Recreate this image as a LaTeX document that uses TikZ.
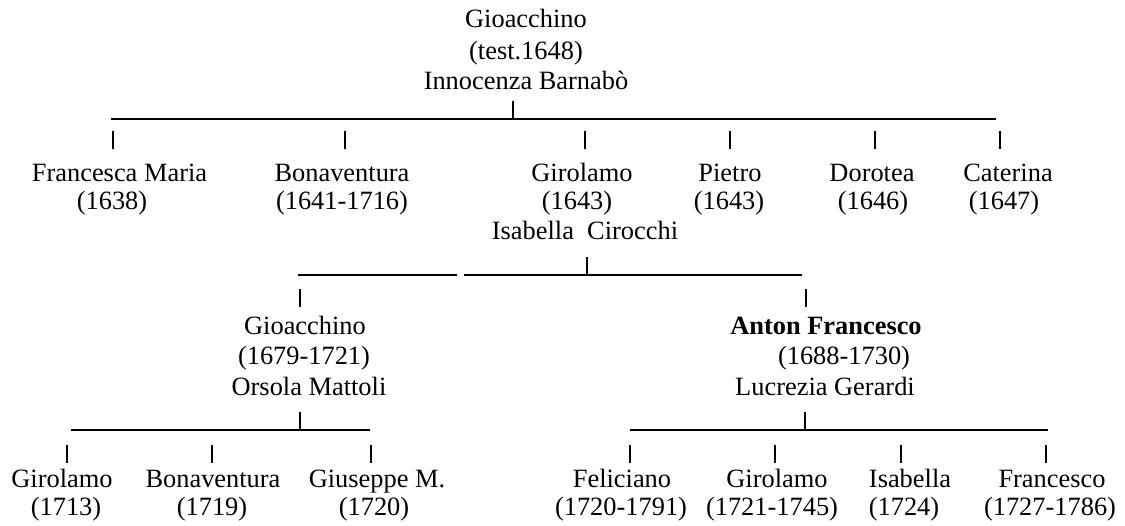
\documentclass[tikz,border=0pt]{standalone}
\usepackage{fontspec}
\setmainfont{Liberation Serif}
\begin{document}
\begin{tikzpicture}[x=1pt,y=-1pt,
  t/.style={anchor=base,inner sep=0pt,font=\fontsize{26.4}{30}\selectfont},
  tb/.style={t,font=\fontsize{26.4}{30}\selectfont\bfseries},
  hline/.style={line width=1.1pt},
  bar/.style={line width=1.1pt}]
\useasboundingbox (0,0) rectangle (1125,526);
% generation 1
\node[t] (g) at (526,28) {Gioacchino};
\node[t] (gd) at (526,60) {(test.1648)};
\node[t] (gw) at (526,90) {Innocenza Barnabò};
\coordinate (a1) at (111,119); \coordinate (a2) at (996,119); \coordinate (ap) at (513,119);
\draw[hline] (a1) -- (a2);
\draw[bar] (ap) -- ++(0,-18);
\foreach \x/\n in {113/t1,345/t2,585/t3,730/t4,875/t5,1000/t6}{
  \coordinate (\n) at (\x,131);
  \draw[bar] (\n) -- ++(0,18);
}
% generation 2
\node[t] (fm) at (119.5,182) {Francesca Maria};
\node[t] (fmd) at (112,210) {(1638)};
\node[t] (bo) at (342,182) {Bonaventura};
\node[t] (bod) at (342,210) {(1641-1716)};
\node[t] (gi) at (582,182) {Girolamo};
\node[t] (gid) at (577,210) {(1643)};
\node[t] (giw) at (585,240) {Isabella\hspace{0.25em} Cirocchi};
\node[t] (pi) at (730,182) {Pietro};
\node[t] (pid) at (729,210) {(1643)};
\node[t] (do) at (872,182) {Dorotea};
\node[t] (dod) at (873,210) {(1646)};
\node[t] (ca) at (1008,182) {Caterina};
\node[t] (cad) at (1004,210) {(1647)};
\coordinate (b1) at (298,275); \coordinate (b2) at (457,275);
\coordinate (b3) at (464,275); \coordinate (b4) at (802,275);
\coordinate (bp) at (587,275);
\draw[hline] (b1) -- (b2);
\draw[hline] (b3) -- (b4);
\draw[bar] (bp) -- ++(0,-18);
\coordinate (u1) at (300,289); \coordinate (u2) at (806,289);
\draw[bar] (u1) -- ++(0,18);
\draw[bar] (u2) -- ++(0,18);
% generation 3
\node[t] (jg) at (305,335) {Gioacchino};
\node[t] (jgd) at (304,365) {(1679-1721)};
\node[t] (jgw) at (309,396) {Orsola Mattoli};
\node[tb] (af) at (826,335) {Anton Francesco};
\node[t] (afd) at (844,365) {(1688-1730)};
\node[t] (afw) at (825,396) {Lucrezia Gerardi};
\coordinate (c1) at (71,430); \coordinate (c2) at (370,430); \coordinate (cp) at (300,430);
\coordinate (d1) at (630,430); \coordinate (d2) at (1048,430); \coordinate (dp) at (805,430);
\draw[hline] (c1) -- (c2);
\draw[hline] (d1) -- (d2);
\draw[bar] (cp) -- ++(0,-18);
\draw[bar] (dp) -- ++(0,-18);
\foreach \x/\n in {67/v1,212/v2,371/v3,630/v4,775/v5,901/v6,1046/v7}{
  \coordinate (\n) at (\x,445);
  \draw[bar] (\n) -- ++(0,18);
}
% generation 4
\node[t] (k1) at (62,487) {Girolamo};
\node[t] (k1d) at (66,515) {(1713)};
\node[t] (k2) at (213,487) {Bonaventura};
\node[t] (k2d) at (212,515) {(1719)};
\node[t] (k3) at (377,487) {Giuseppe M.};
\node[t] (k3d) at (374,515) {(1720)};
\node[t] (m1) at (622,487) {Feliciano};
\node[t] (m1d) at (621,515) {(1720-1791)};
\node[t] (m2) at (777,487) {Girolamo};
\node[t] (m2d) at (772,515) {(1721-1745)};
\node[t] (m3) at (910,487) {Isabella};
\node[t] (m3d) at (904,515) {(1724)};
\node[t] (m4) at (1052,487) {Francesco};
\node[t] (m4d) at (1050,515) {(1727-1786)};
\end{tikzpicture}
\end{document}
